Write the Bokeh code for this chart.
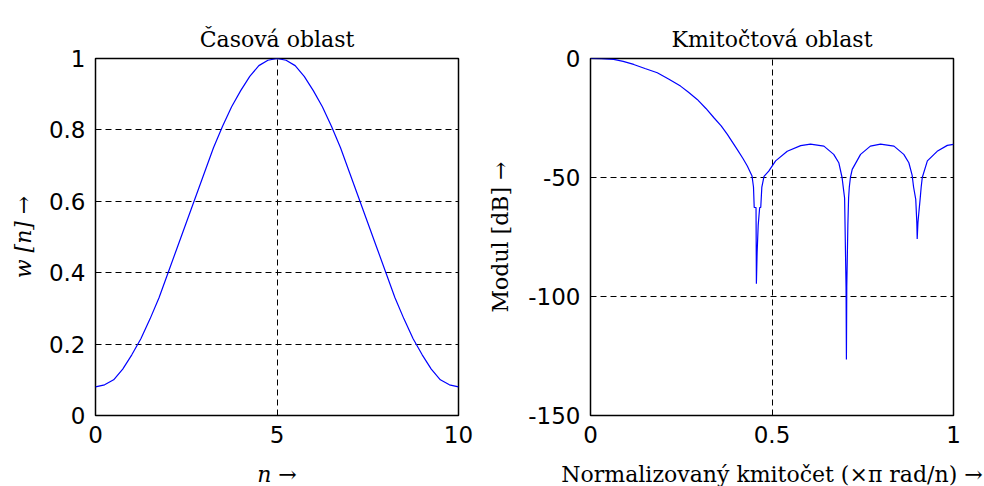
from bokeh.plotting import figure
from bokeh.layouts import row
from bokeh.models import FixedTicker, NumeralTickFormatter, Range1d
from bokeh.embed import file_html
from bokeh.resources import INLINE

# ---- time domain (window) ----
n_vals = [0, 0.25, 0.5, 0.75, 1, 1.25, 1.5, 1.75, 2, 2.25, 2.5, 2.75, 3, 3.25, 3.5, 3.75,
          4, 4.25, 4.5, 4.75, 5, 5.25, 5.5, 5.75, 6, 6.25, 6.5, 6.75, 7, 7.25, 7.5, 7.75,
          8, 8.25, 8.5, 8.75, 9, 9.25, 9.5, 9.75, 10]
w_vals = [0.08, 0.086, 0.10, 0.13, 0.17, 0.215, 0.27, 0.33, 0.40, 0.47, 0.54, 0.61, 0.68, 0.75, 0.81, 0.865,
          0.91, 0.95, 0.98, 0.995, 1.0, 0.995, 0.98, 0.95, 0.91, 0.865, 0.81, 0.75, 0.68, 0.61, 0.54, 0.47,
          0.40, 0.33, 0.27, 0.215, 0.17, 0.13, 0.10, 0.086, 0.08]

# ---- frequency domain (magnitude, dB) ----
f_vals = [0, 0.03, 0.064, 0.09, 0.119, 0.15, 0.184, 0.215, 0.248, 0.27, 0.294, 0.318, 0.340, 0.36, 0.377,
          0.404, 0.42, 0.432, 0.445, 0.449, 0.451, 0.456, 0.457, 0.459, 0.462, 0.466, 0.469, 0.472,
          0.478, 0.491, 0.51, 0.542, 0.579, 0.606, 0.643, 0.670, 0.684, 0.693, 0.697, 0.700, 0.704,
          0.705, 0.706, 0.709, 0.711, 0.713, 0.716, 0.721, 0.744, 0.771, 0.799, 0.836, 0.863, 0.877,
          0.886, 0.890, 0.896, 0.899, 0.900, 0.902, 0.905, 0.908, 0.911, 0.914, 0.928, 0.955, 0.983, 1.0]
m_vals = [0, -0.1, -0.4, -1.2, -2.5, -4.2, -6.0, -8.6, -11.6, -14.2, -17.2, -21.0, -24.9, -28.3, -31.9,
          -38.2, -42.0, -45.2, -49.4, -54.0, -62.6, -62.6, -94.6, -81.6, -70.0, -62.6, -62.6, -54.0,
          -49.5, -47.3, -43.0, -39.0, -36.6, -36.0, -36.8, -40.3, -43.8, -50.0, -55.0, -58.6, -96.0,
          -126.5, -96.0, -70.0, -58.6, -54.0, -50.0, -46.6, -40.3, -36.8, -36.0, -36.8, -40.3, -43.8,
          -49.0, -54.0, -59.2, -69.0, -75.8, -69.0, -64.0, -59.2, -54.0, -50.0, -43.0, -39.0, -36.5, -36.1]

left_xticks = [0, 5, 10]
left_yticks = [0, 0.2, 0.4, 0.6, 0.8, 1]
right_xticks = [0, 0.5, 1]
right_yticks = [-150, -100, -50, 0]

SANS = "DejaVu Sans"
SERIF = "DejaVu Serif"


def style(p, xt, yt):
    p.title.text_font = SERIF
    p.title.text_font_size = "22px"
    p.title.text_font_style = "normal"
    p.title.align = "center"
    p.title.text_color = "black"
    p.title.standoff = 14
    p.outline_line_color = "black"
    p.outline_line_alpha = 1
    p.outline_line_width = 1.5
    p.background_fill_color = "white"
    p.border_fill_color = "white"
    p.xaxis.ticker = FixedTicker(ticks=xt)
    p.yaxis.ticker = FixedTicker(ticks=yt)
    p.xaxis.formatter = NumeralTickFormatter(format="0.[0]")
    p.yaxis.formatter = NumeralTickFormatter(format="0.[0]")
    for ax in (p.xaxis, p.yaxis):
        ax.axis_line_color = None
        ax.major_tick_line_color = None
        ax.minor_tick_line_color = None
        ax.major_tick_out = 0
        ax.major_tick_in = 0
        ax.major_label_text_font = SANS
        ax.major_label_text_font_size = "23px"
        ax.major_label_text_color = "black"
        ax.axis_label_text_font = SERIF
        ax.axis_label_text_font_size = "22px"
        ax.axis_label_text_color = "black"
        ax.axis_label_text_font_style = "normal"
    p.xaxis.major_label_standoff = 10
    p.yaxis.major_label_standoff = 10
    p.xaxis.axis_label_standoff = 16
    p.yaxis.axis_label_standoff = 10
    for g in (p.xgrid, p.ygrid):
        g.grid_line_color = "black"
        g.grid_line_alpha = 1
        g.grid_line_width = 1
        g.grid_line_dash = "6 4"


p1 = figure(title="Časová oblast", frame_width=363, frame_height=357,
            min_border_left=95, min_border_right=27, min_border_top=58, min_border_bottom=71,
            x_range=Range1d(0, 10), y_range=Range1d(0, 1),
            output_backend="svg", toolbar_location=None)
style(p1, left_xticks, left_yticks)
p1.xaxis.axis_label = "n →"
p1.xaxis.axis_label_text_font_style = "italic"
p1.yaxis.axis_label = "w [n] →"
p1.yaxis.axis_label_text_font_style = "italic"
p1.line(n_vals, w_vals, line_color="#0000ff", line_width=1.2)

p2 = figure(title="Kmitočtová oblast", frame_width=363, frame_height=357,
            min_border_left=104, min_border_right=30, min_border_top=58, min_border_bottom=71,
            x_range=Range1d(0, 1), y_range=Range1d(-150, 0),
            output_backend="svg", toolbar_location=None)
style(p2, right_xticks, right_yticks)
p2.xaxis.axis_label = "Normalizovaný kmitočet (×π rad/n) →"
p2.yaxis.axis_label = "Modul [dB] →"
p2.yaxis.axis_label_standoff = 12
p2.line(f_vals, m_vals, line_color="#0000ff", line_width=1.2)

layout = row(p1, p2)
open("out.html", "w").write(file_html(layout, INLINE))
